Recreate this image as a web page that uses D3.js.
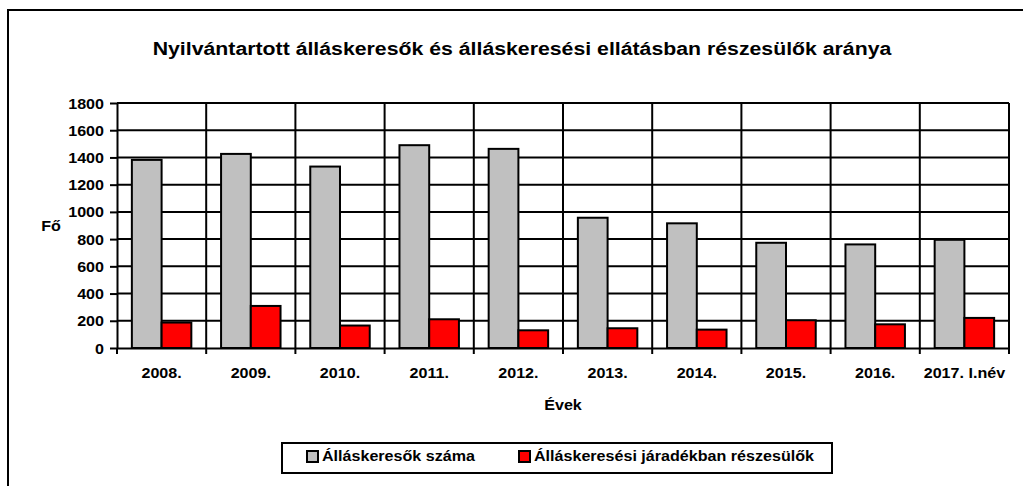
<!DOCTYPE html>
<html>
<head>
<meta charset="utf-8">
<script src="https://cdn.jsdelivr.net/npm/d3@7"></script>
<style>
  body { margin: 0; background: #fff; }
  svg { display: block; font-family: "Liberation Sans", Arial, sans-serif; font-weight: bold; }
</style>
</head>
<body>
<div id="chart"></div>
<script>
// data
const categories = ['2008.', '2009.', '2010.', '2011.', '2012.', '2013.', '2014.', '2015.', '2016.', '2017. I.név'];
const seekers = [1382, 1426, 1333, 1490, 1463, 957, 916, 773, 761, 795];
const benefits = [187, 309, 165, 211, 130, 145, 135, 204, 174, 221];
const seriesNames = ['Álláskeresők száma', 'Álláskeresési járadékban részesülők'];
const yTicks = [0, 200, 400, 600, 800, 1000, 1200, 1400, 1600, 1800];

const width = 1023, height = 486;
const plot = { left: 117, right: 1009, top: 103, bottom: 348 };
const colors = ['#c0c0c0', '#ff0000'];
const sx = 1.15; // text in the picture is stretched horizontally

const svg = d3.select('#chart').append('svg')
  .attr('width', width)
  .attr('height', height);

svg.append('rect').attr('width', width).attr('height', height).attr('fill', '#fff');

// outer chart border (runs off the right and bottom edge)
svg.append('rect')
  .attr('x', 8).attr('y', 10)
  .attr('width', 1100).attr('height', 600)
  .attr('fill', 'none').attr('stroke', '#000').attr('stroke-width', 2);

// scales
const x0 = d3.scaleBand().domain(categories).range([plot.left, plot.right]);
const x1 = d3.scaleBand().domain([0, 1]).range([0, x0.bandwidth()]).paddingOuter(0.5);
const y = d3.scaleLinear().domain([0, 1800]).range([plot.bottom, plot.top]);

// helper for stretched text
function label(sel, x, yy, txt, size, anchor) {
  return sel.append('text')
    .attr('transform', `translate(${x},${yy}) scale(${sx},1)`)
    .attr('font-size', size)
    .attr('text-anchor', anchor || 'middle')
    .attr('fill', '#000')
    .text(txt);
}

// grid
const grid = svg.append('g').attr('stroke', '#000').attr('stroke-width', 2);
grid.selectAll('line.h')
  .data(yTicks.slice(1))
  .enter().append('line')
  .attr('x1', plot.left).attr('x2', plot.right)
  .attr('y1', d => y(d)).attr('y2', d => y(d));
grid.selectAll('line.v')
  .data(categories.slice(1).map(c => x0(c)).concat([plot.right]))
  .enter().append('line')
  .attr('x1', d => d).attr('x2', d => d)
  .attr('y1', plot.top).attr('y2', plot.bottom);

// bars
const groups = svg.append('g').selectAll('g')
  .data(categories.map((c, i) => ({ cat: c, vals: [seekers[i], benefits[i]] })))
  .enter().append('g')
  .attr('transform', d => `translate(${x0(d.cat)},0)`);

groups.selectAll('rect')
  .data(d => d.vals.map((v, k) => ({ k: k, v: v })))
  .enter().append('rect')
  .attr('x', d => x1(d.k))
  .attr('y', d => y(d.v))
  .attr('width', x1.bandwidth())
  .attr('height', d => plot.bottom - y(d.v))
  .attr('fill', d => colors[d.k])
  .attr('stroke', '#000')
  .attr('stroke-width', 2);

// y axis
const yAxis = svg.append('g')
  .attr('transform', `translate(${plot.left},0)`)
  .call(d3.axisLeft(y).tickValues(yTicks).tickSize(7).tickSizeOuter(0).tickFormat(d3.format('d')));
yAxis.select('.domain').attr('stroke-width', 2);
yAxis.selectAll('.tick line').attr('stroke-width', 2);
yAxis.selectAll('.tick text')
  .attr('font-size', 14).attr('font-family', null).attr('font-weight', 'bold')
  .attr('fill', '#000').attr('dy', '0.36em')
  .attr('transform', `scale(${sx},1)`)
  .attr('x', -13 / sx);

// x axis
const xAxis = svg.append('g')
  .attr('transform', `translate(0,${plot.bottom})`)
  .call(d3.axisBottom(x0).tickSize(0).tickSizeOuter(0));
xAxis.select('.domain').attr('stroke-width', 2);
xAxis.selectAll('.tick text').remove();
xAxis.selectAll('.tick').each(function (d) {
  label(d3.select(this), 0, 30, d, 14);
});
svg.append('g').attr('stroke', '#000').attr('stroke-width', 2)
  .selectAll('line')
  .data(categories.map(c => x0(c)).concat([plot.right]))
  .enter().append('line')
  .attr('x1', d => d).attr('x2', d => d)
  .attr('y1', plot.bottom).attr('y2', plot.bottom + 6);

// titles
label(svg, 522, 55, 'Nyilvántartott álláskeresők és álláskeresési ellátásban részesülők aránya', 18.5);
label(svg, 563, 410, 'Évek', 14);
label(svg, 51, 231, 'Fő', 14);

// legend
const legend = svg.append('g');
legend.append('rect')
  .attr('x', 283).attr('y', 444).attr('width', 550).attr('height', 30)
  .attr('fill', '#999');
legend.append('rect')
  .attr('x', 282).attr('y', 443).attr('width', 550).attr('height', 30)
  .attr('fill', '#fff').attr('stroke', '#000').attr('stroke-width', 2);

const legendX = [307, 519];
seriesNames.forEach((name, k) => {
  legend.append('rect')
    .attr('x', legendX[k]).attr('y', 451).attr('width', 11).attr('height', 11)
    .attr('fill', colors[k]).attr('stroke', '#000').attr('stroke-width', 2);
  label(legend, legendX[k] + 15, 461, name, 14, 'start');
});
</script>
</body>
</html>
